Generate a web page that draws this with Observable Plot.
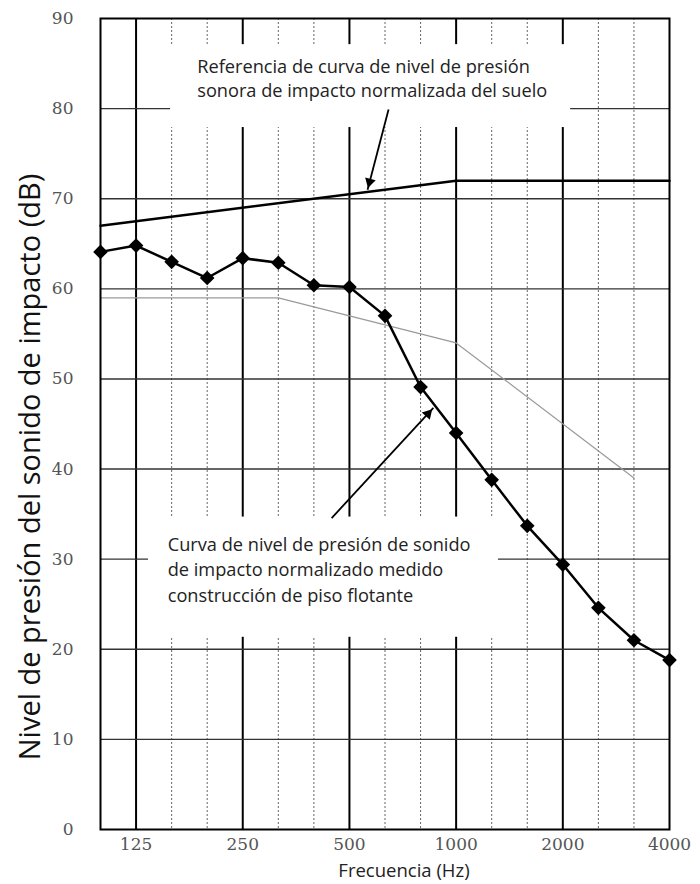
<!DOCTYPE html>
<html><head><meta charset="utf-8">
<script src="https://cdn.jsdelivr.net/npm/d3@7"></script>
<script src="https://cdn.jsdelivr.net/npm/@observablehq/plot@0.6"></script>
<style>body{margin:0;background:#fff}</style>
</head><body><div id="chart"></div>
<script>
// Third-octave bands (categories)
const bands = ["100","125","160","200","250","315","400","500","630","800","1000","1250","1600","2000","2500","3150","4000"];
// Measured floating-floor curve (dB)
const measured = [64.1,64.8,63.0,61.2,63.4,62.9,60.4,60.2,57.0,49.1,44.0,38.8,33.7,29.4,24.6,21.0,18.8];
// Reference curve breakpoints
const refBands = ["100","1000","4000"];
const refValues = [67,72,72];
// Thin grey curve breakpoints
const greyBands = ["100","315","1000","3150"];
const greyValues = [59,59,54,39];
// Tick labels
const octaveTicks = ["125","250","500","1000","2000","4000"];
const yTicks = [0,10,20,30,40,50,60,70,80,90];
const gridY = [10,20,30,40,50,60,70,80];

const title = "Nivel de presión del sonido de impacto (dB)";
const xTitle = "Frecuencia (Hz)";
const note1 = ["Referencia de curva de nivel de presión","sonora de impacto normalizada del suelo"];
const note2 = ["Curva de nivel de presión de sonido","de impacto normalizado medido","construcción de piso flotante"];

const X = b => bands.indexOf(b);
const measuredData = bands.map((b,i)=>({i:X(b), v:measured[i]}));
const refData = refBands.map((b,i)=>({i:X(b), v:refValues[i]}));
const greyData = greyBands.map((b,i)=>({i:X(b), v:greyValues[i]}));
const majorIdx = octaveTicks.map(X).filter(i => i < bands.length-1);
const minorIdx = bands.map((b,i)=>i).filter(i => i>0 && i<bands.length-1 && !majorIdx.includes(i));

// annotation placement (data units: band index, dB)
const boxes = [{x1:1.97,x2:13.22,y1:77.9,y2:87.1},{x1:1.35,x2:11.19,y1:21.33,y2:34.67}];
const noteRows = [
  {t:note1[0], x:2.72, y:84.57},{t:note1[1], x:2.72, y:81.93},
  {t:note2[0], x:1.89, y:31.57},{t:note2[1], x:1.89, y:28.79},{t:note2[2], x:1.89, y:25.9}
];
const arrows = [{x1:8.10,y1:79.9,x2:7.51,y2:71.0},{x1:6.50,y1:34.56,x2:9.36,y2:46.78}];

const sans = "'Open Sans', 'Noto Sans', sans-serif";
const serif = "'DejaVu Serif', serif";

function build(heads){
  return Plot.plot({
    width:700, height:884,
    marginLeft:100, marginRight:31, marginTop:18, marginBottom:55,
    x:{type:"linear", domain:[0,16]},
    y:{domain:[0,90]},
    marks:[
      Plot.ruleX(minorIdx, {stroke:"#666", strokeWidth:1, strokeDasharray:"2,2"}),
      Plot.ruleX(majorIdx, {stroke:"#000", strokeWidth:2}),
      Plot.ruleY(gridY, {stroke:"#333", strokeWidth:1.4}),
      Plot.line(greyData, {x:"i", y:"v", stroke:"#9a9a9a", strokeWidth:1.2}),
      Plot.rect(boxes, {x1:"x1", x2:"x2", y1:"y1", y2:"y2", fill:"white"}),
      Plot.line(refData, {x:"i", y:"v", stroke:"#000", strokeWidth:2.5}),
      Plot.line(measuredData, {x:"i", y:"v", stroke:"#000", strokeWidth:2.5}),
      Plot.dot(measuredData, {x:"i", y:"v", symbol:"diamond2", r:6.6, fill:"#000", stroke:"none"}),
      Plot.link(arrows, {x1:"x1", y1:"y1", x2:"x2", y2:"y2", stroke:"#000", strokeWidth:1.8}),
      heads.length ? Plot.dot(heads, {x:"x", y:"y", symbol:"triangle2", r:5.2, rotate:"a", fill:"#000", stroke:"none"}) : null,
      Plot.text(noteRows, {x:"x", y:"y", text:"t", textAnchor:"start", fontFamily:sans, fontSize:18.2, fill:"#222"}),
      Plot.frame({stroke:"#000", strokeWidth:2}),
      Plot.axisX(octaveTicks.map(X), {tickFormat:i=>bands[i], tickSize:0, tickPadding:8, fontFamily:serif, fontSize:17, color:"#555", label:null}),
      Plot.axisY(yTicks, {tickSize:0, tickPadding:27, fontFamily:serif, fontSize:17, color:"#555", label:null}),
      Plot.text([title], {text:d=>d, frameAnchor:"left", textAnchor:"middle", dx:-70, dy:43, rotate:-90, fontFamily:sans, fontSize:29, fill:"#111"}),
      Plot.text([xTitle], {text:d=>d, frameAnchor:"bottom", textAnchor:"middle", dx:19, dy:47, fontFamily:sans, fontSize:18.5, fill:"#222"})
    ]
  });
}

const first = build([]);
const sx = first.scale("x"), sy = first.scale("y");
const heads = arrows.map(a => {
  const px1 = sx.apply(a.x1), py1 = sy.apply(a.y1), px2 = sx.apply(a.x2), py2 = sy.apply(a.y2);
  const L = Math.hypot(px2-px1, py2-py1), ux = (px2-px1)/L, uy = (py2-py1)/L;
  const back = 8;
  return {x: sx.invert(px2-ux*back), y: sy.invert(py2-uy*back), a: Math.atan2(ux,-uy)*180/Math.PI};
});
document.getElementById("chart").append(build(heads));
</script>
</body></html>
